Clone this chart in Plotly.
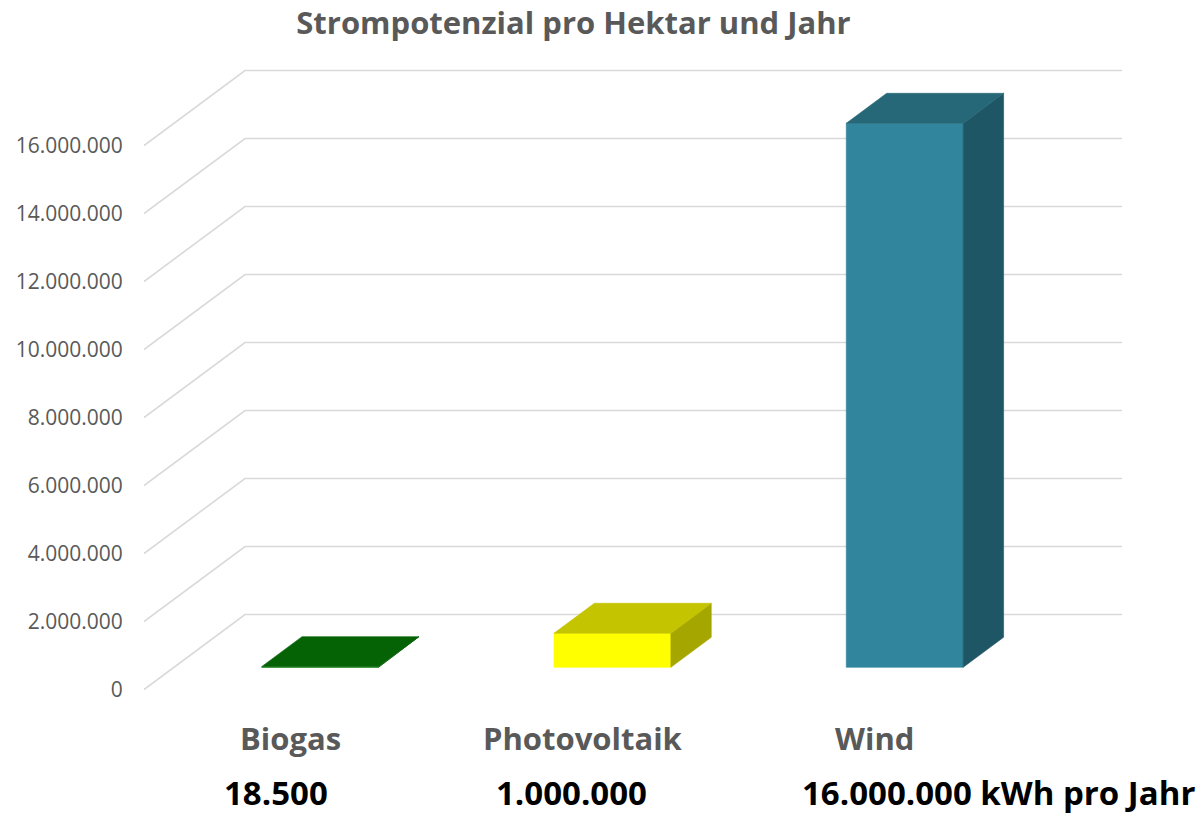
import plotly.graph_objects as go

# ---------------- data ----------------
categories = ["Biogas", "Photovoltaik", "Wind"]
values = [18500, 1000000, 16000000]
value_suffix = ["", "", " kWh pro Jahr"]
tick_values = [0, 2000000, 4000000, 6000000, 8000000, 10000000, 12000000, 14000000, 16000000]
tick_labels = ["0", "2.000.000", "4.000.000", "6.000.000", "8.000.000",
               "10.000.000", "12.000.000", "14.000.000", "16.000.000"]
title_text = "Strompotenzial pro Hektar und Jahr"

# ---------------- style ----------------
front_colors = ["#0A7A0A", "#FFFF00", "#31859C"]
top_colors = ["#056305", "#C4C400", "#266877"]
side_colors = ["#044F04", "#A6A600", "#1F5665"]
grid_color = "#D9D9D9"
grey = "#595959"
FONT = "Open Sans"

# oblique projection of depth (x units, y value units)
DX = 0.3455
DY = 2.206e6
Z0, Z1 = 0.296, 0.696
HALF_W = 0.2
value_label_shift = [-0.047, -0.039, 0.422]


def proj(x, v, z):
    return x + z * DX, v + z * DY


def fmt_de(v):
    return f"{v:,}".replace(",", ".")


fig = go.Figure()

# perspective gridlines (left wall + back wall)
gx, gy = [], []
x_left, x_right = -0.5, len(categories) - 0.5
for v in tick_values:
    p0 = proj(x_left, v, 0)
    p1 = proj(x_left, v, 1)
    p2 = proj(x_right, v, 1)
    gx += [p0[0], p1[0], p2[0], None]
    gy += [p0[1], p1[1], p2[1], None]
fig.add_trace(go.Scatter(x=gx, y=gy, mode="lines",
                         line=dict(color=grid_color, width=1.6),
                         hoverinfo="skip", showlegend=False))

# 3D-looking bars
for i, (cat, v) in enumerate(zip(categories, values)):
    xl, xr = i - HALF_W, i + HALF_W
    faces = [
        ([proj(xl, 0, Z0), proj(xr, 0, Z0), proj(xr, v, Z0), proj(xl, v, Z0)], front_colors[i]),
        ([proj(xr, 0, Z0), proj(xr, 0, Z1), proj(xr, v, Z1), proj(xr, v, Z0)], side_colors[i]),
        ([proj(xl, v, Z0), proj(xr, v, Z0), proj(xr, v, Z1), proj(xl, v, Z1)], top_colors[i]),
    ]
    for pts, col in faces:
        xs = [p[0] for p in pts] + [pts[0][0]]
        ys = [p[1] for p in pts] + [pts[0][1]]
        fig.add_trace(go.Scatter(x=xs, y=ys, mode="lines", fill="toself",
                                 fillcolor=col, line=dict(color=col, width=0.6),
                                 name=cat, hoverinfo="skip", showlegend=False))

# category and value labels
annotations = []
for i, (cat, v) in enumerate(zip(categories, values)):
    annotations.append(dict(
        x=i, y=-0.0586, xref="x", yref="paper", text=f"<b>{cat}</b>",
        showarrow=False, xanchor="center", yanchor="middle",
        font=dict(family=FONT, size=31, color=grey)))
    annotations.append(dict(
        x=i + value_label_shift[i], y=-0.1453, xref="x", yref="paper",
        text=f"<b>{fmt_de(v)}{value_suffix[i]}</b>",
        showarrow=False, xanchor="center", yanchor="middle",
        font=dict(family=FONT, size=33, color="#000000")))

fig.update_layout(
    width=1197, height=815,
    margin=dict(l=144, r=75, t=60, b=115),
    paper_bgcolor="white", plot_bgcolor="white",
    title=dict(text=f"<b>{title_text}</b>", x=0.4791, xref="container", xanchor="center",
               y=0.972, yref="container", yanchor="middle",
               font=dict(family=FONT, size=31, color=grey)),
    xaxis=dict(range=[-0.5, len(categories) - 0.5 + DX], visible=False, fixedrange=True),
    yaxis=dict(range=[-0.309e6, 18.515e6], tickvals=tick_values, ticktext=tick_labels,
               showgrid=False, zeroline=False, showline=False,
               ticks="outside", ticklen=16, tickcolor="rgba(0,0,0,0)",
               tickfont=dict(family=FONT, size=21, color=grey), fixedrange=True),
    annotations=annotations,
    showlegend=False,
)

fig.write_html("out.html", config={"displayModeBar": False},
               post_script="document.body.style.margin='0';document.body.style.overflow='hidden';")
